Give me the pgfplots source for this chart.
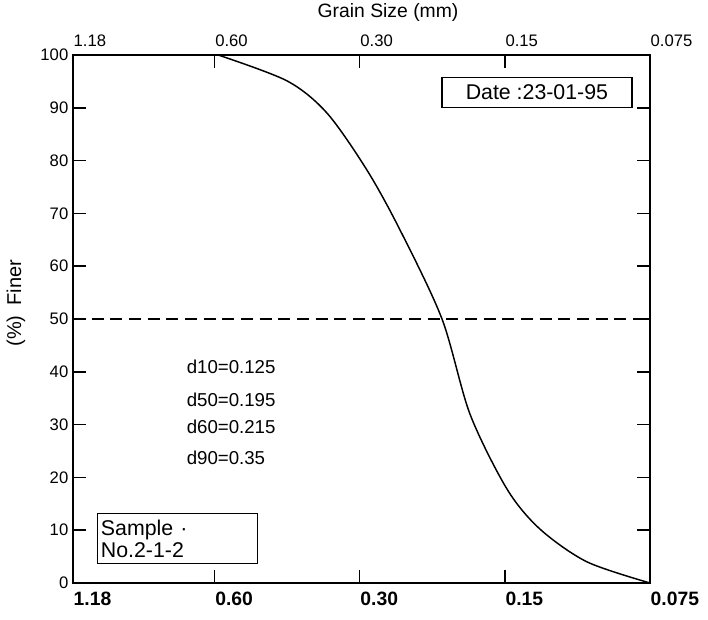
\documentclass[border=0pt]{standalone}
\usepackage{fontspec}
\setmainfont{Liberation Sans}
\usepackage{pgfplots}
\pgfplotsset{compat=1.18}

\begin{document}
\begin{tikzpicture}
% 1 px of the reference = 0.75pt
\begin{axis}[
    name=ax,
    scale only axis,
    width=432.75pt, height=396pt,
    xmode=log, x dir=reverse,
    xmin=0.075, xmax=1.18,
    ymin=0, ymax=100,
    xtick={1.18,0.6,0.3,0.15,0.075},
    xticklabels={1.18,0.60,0.30,0.15,0.075},
    xticklabel style={font=\fontsize{14.5}{16}\selectfont\bfseries, anchor=north west, xshift=-3pt, yshift=-3pt},
    ytick={0,10,20,30,40,50,60,70,80,90,100},
    yticklabels={0,10,20,30,40,50,60,70,80,90,100},
    yticklabel style={font=\fontsize{12.5}{14}\selectfont},
    ytick pos=both, xtick pos=both,
    xticklabel pos=bottom, yticklabel pos=left,
    minor tick num=0,
    tick align=inside,
    major tick length=9.75pt,
    tick style={line width=1.1pt, black},
    axis line style={line width=1.2pt},
    title={Grain Size (mm)},
    title style={font=\fontsize{14.5}{16}\selectfont, at={(0.546,1.066)}, anchor=center},
    ylabel={(\%)\enspace Finer},
    ylabel style={font=\fontsize{15}{17}\selectfont, at={(axis description cs:-0.0988,0.53)}, anchor=center},
    clip=false,
]
% grain size distribution curve
\addplot[line width=1.1pt, smooth, tension=0.5] coordinates {
    (0.590,100) (0.4246,95.1) (0.3508,89.0) (0.2898,78.2) (0.2476,66.9)
    (0.2025,50.0) (0.1772,32.0) (0.1485,17.8) (0.1268,10.2) (0.1013,4.0)
    (0.075,0)
};
% 50 % line
\addplot[line width=1.1pt, dash pattern=on 9pt off 5pt] coordinates {(1.18,50) (0.075,50)};

\node[draw, line width=0.9pt, minimum width=142.5pt, minimum height=23pt, inner sep=2pt,
      font=\fontsize{16}{18}\selectfont] at (rel axis cs:0.804,0.929) {Date :23-01-95};
\node[draw, line width=0.9pt, anchor=north west, minimum width=120pt, minimum height=37.5pt,
      text width=115pt, align=left, inner xsep=2.25pt, inner ysep=2pt,
      font=\fontsize{16}{16.5}\selectfont] at (rel axis cs:0.0416,0.1326) {Sample ·\\No.2-1-2};

\node[anchor=west, font=\fontsize{14}{16}\selectfont] at (rel axis cs:0.189,0.409) {d10=0.125};
\node[anchor=west, font=\fontsize{14}{16}\selectfont] at (rel axis cs:0.189,0.3466) {d50=0.195};
\node[anchor=west, font=\fontsize{14}{16}\selectfont] at (rel axis cs:0.189,0.2955) {d60=0.215};
\node[anchor=west, font=\fontsize{14}{16}\selectfont] at (rel axis cs:0.189,0.2367) {d90=0.35};
\end{axis}

% top tick labels
\begin{axis}[
    at={(ax.south west)}, anchor=south west,
    scale only axis,
    width=432.75pt, height=396pt,
    xmode=log, x dir=reverse,
    xmin=0.075, xmax=1.18,
    ymin=0, ymax=100,
    xtick={1.18,0.6,0.3,0.15,0.075},
    xticklabels={1.18,0.60,0.30,0.15,0.075},
    xticklabel pos=top,
    xticklabel style={font=\fontsize{12.5}{14}\selectfont, anchor=south west, xshift=-3pt, yshift=3pt},
    ytick=\empty,
    major tick length=0pt,
    axis line style={draw=none},
]
\end{axis}

\pgfresetboundingbox
\path[use as bounding box] ([xshift=-54.75pt,yshift=-27.75pt]ax.south west) rectangle ([xshift=43.5pt,yshift=41.25pt]ax.north east);
\end{tikzpicture}
\end{document}
